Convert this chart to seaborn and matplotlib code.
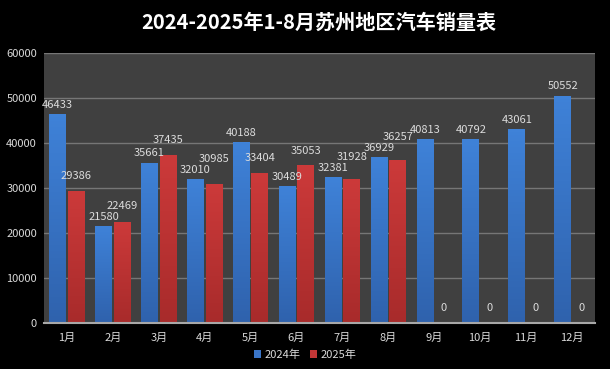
import numpy as np
import pandas as pd
import matplotlib
matplotlib.use("Agg")
import matplotlib.pyplot as plt
import matplotlib.colors as mcolors
import seaborn as sns

months = ["1月", "2月", "3月", "4月", "5月", "6月", "7月", "8月", "9月", "10月", "11月", "12月"]
sales_2024 = [46433, 21580, 35661, 32010, 40188, 30489, 32381, 36929, 40813, 40792, 43061, 50552]
sales_2025 = [29386, 22469, 37435, 30985, 33404, 35053, 31928, 36257, 0, 0, 0, 0]
series = ["2024年", "2025年"]
y_ticks = [0, 10000, 20000, 30000, 40000, 50000, 60000]
title = "2024-2025年1-8月苏州地区汽车销量表"

df = pd.DataFrame({
    "月份": months * 2,
    "销量": sales_2024 + sales_2025,
    "年份": [series[0]] * len(months) + [series[1]] * len(months),
})

sns.set_theme(style="dark")
plt.rcParams["font.family"] = ["Noto Sans CJK SC", "DejaVu Sans"]

colors = {"2024年": "#3a75c8", "2025年": "#c23636"}
top_bot = {"2024年": ("#3f82d8", "#2f62ad"), "2025年": ("#cc3a3a", "#a82b2b")}
label_pad = {"2024年": 3, "2025年": 7}

DPI = 100
fig = plt.figure(figsize=(6.1, 3.69), dpi=DPI, facecolor="black")
ax = fig.add_axes([44 / 610, 46 / 369, 551 / 610, 270 / 369])
ax.set_facecolor("#404040")

sns.barplot(data=df, x="月份", y="销量", hue="年份", palette=colors,
            width=0.81, gap=0.09, ax=ax, saturation=1, legend=True)

ax.set_ylim(0, 60000)
ax.set_xlim(-0.5, len(months) - 0.5)
ax.set_yticks(y_ticks)
ax.set_yticklabels([str(v) for v in y_ticks])
ax.grid(axis="y", color="#767676", linewidth=1)
ax.grid(axis="x", visible=False)
ax.set_axisbelow(True)
for s in ["left", "right", "top"]:
    ax.spines[s].set_visible(False)
ax.spines["bottom"].set_color("#a8a8a8")
ax.spines["bottom"].set_linewidth(1.5)
ax.tick_params(axis="both", length=0, colors="#d9d9d9", labelsize=8)
ax.tick_params(axis="x", pad=7)
ax.tick_params(axis="y", pad=5)
ax.set_xlabel("")
ax.set_ylabel("")

# gradient fill on bars + value labels
labels = {}
for container, name in zip(ax.containers, series):
    c_top, c_bot = top_bot[name]
    cmap = mcolors.LinearSegmentedColormap.from_list("g", [c_bot, c_top])
    grad = np.linspace(0, 1, 64).reshape(-1, 1)
    for p in container.patches:
        h = p.get_height()
        if h <= 0:
            continue
        x0 = p.get_x()
        w = p.get_width()
        im = ax.imshow(grad, cmap=cmap, aspect="auto", origin="lower",
                       extent=[x0, x0 + w, 0, h], zorder=p.get_zorder())
        im.set_clip_path(p)
        p.set_facecolor("none")
        p.set_edgecolor("none")
    labels[name] = ax.bar_label(container, fmt="%d", padding=label_pad[name],
                                color="#dcdcdc", fontsize=8)

ax.set_xlim(-0.5, len(months) - 0.5)
ax.set_ylim(0, 60000)

leg = ax.legend(loc="center", ncol=2, frameon=False, fontsize=8,
                handlelength=0.7, handleheight=0.7, handletextpad=0.3,
                columnspacing=0.8, labelcolor="#d9d9d9",
                bbox_to_anchor=(305 / 610, 14 / 369), bbox_transform=fig.transFigure)
for h, name in zip(leg.legend_handles, series):
    h.set_facecolor(colors[name])
    h.set_edgecolor("none")

fig.text(319 / 610, 1 - 22 / 369, title, color="white", fontsize=14.5,
         fontweight="bold", ha="center", va="center")

# simple collision avoidance between the two labels of a month
fig.canvas.draw()
renderer = fig.canvas.get_renderer()
for a_b, a_r in zip(labels[series[0]], labels[series[1]]):
    bb_b = a_b.get_window_extent(renderer)
    bb_r = a_r.get_window_extent(renderer)
    if bb_b.overlaps(bb_r):
        if bb_r.y0 >= bb_b.y0:
            shift_px = bb_b.y1 - bb_r.y0 + 1
            dx, dy = a_r.xyann
            a_r.xyann = (dx, dy + shift_px * 72 / DPI)
        else:
            shift_px = bb_r.y1 - bb_b.y0 + 1
            dx, dy = a_b.xyann
            a_b.xyann = (dx, dy + shift_px * 72 / DPI)

fig.savefig("out.png", dpi=DPI, facecolor="black")
